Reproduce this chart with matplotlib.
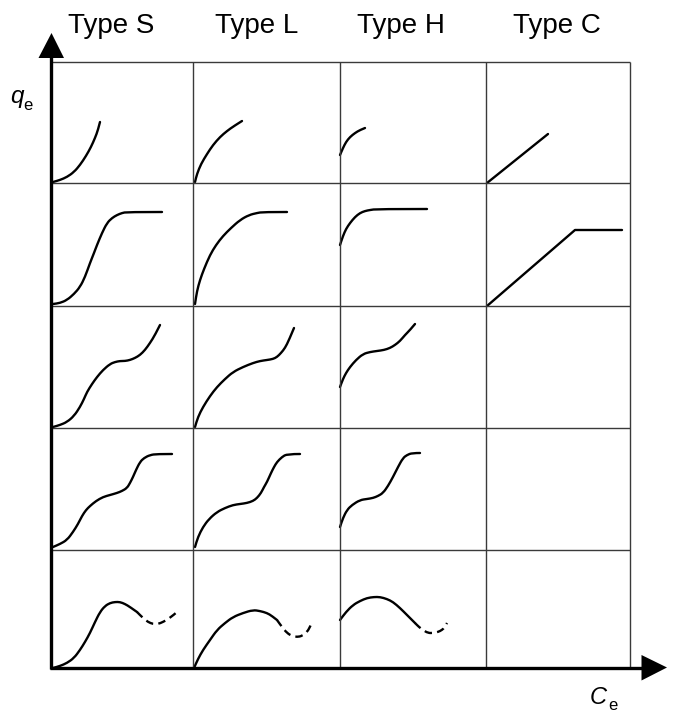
import matplotlib
matplotlib.use("Agg")
import matplotlib.pyplot as plt
from matplotlib.patches import Polygon, PathPatch
from matplotlib.path import Path

# ---- data: column / row labels and isotherm shapes (Ce offset, qe offset per cell) ----
col_labels = ["Type S", "Type L", "Type H", "Type C"]
x_label_main, x_label_sub = "C", "e"
y_label_main, y_label_sub = "q", "e"

# row 1
s1 = [(3,1),(10,3),(17,6),(24,11),(30,18),(36,27),(41,36),(45,45),(48,53),(50,61)]
l1 = [(2,1),(4,9),(8,19),(14,29),(20,38),(27,46),(34,52),(41,57),(49,62)]
h1 = [(0,28),(3,35),(6,41),(10,46),(15,50),(20,53),(25,55)]
c1 = [(1,0),(62,49)]
# row 2
s2 = [(3,2),(10,3),(17,6),(24,12),(30,19),(35,29),(40,43),(44,53),(47,61),(52,73),
      (57,83),(62,88),(67,91),(72,93),(77,94),(112,94)]
l2 = [(2,2),(4,15),(7,26),(11,37),(17,51),(23,61),(30,70),(38,78),(47,86),(56,91),
      (64,93),(70,94),(94,94)]
h2 = [(0,61),(3,70),(6,77),(10,83),(15,89),(20,93),(25,95),(30,96),(37,97),(87,97)]
c2 = [(1,0),(89,76),(136,76)]
# row 3
s3 = [(3,1),(10,3),(17,6),(24,12),(30,21),(34,29),(37,36),(42,44),(47,51),(53,58),
      (60,64),(65,66),(70,67),(75,67),(80,68),(85,70),(90,73),(95,78),(100,85),(105,93),(110,103)]
l3 = [(2,1),(5,11),(10,21),(17,32),(24,41),(32,49),(40,56),(50,61),(60,65),(67,67),
      (74,68),(80,69),(84,71),(88,75),(92,80),(96,88),(101,100)]
h3 = [(0,41),(3,49),(6,55),(10,61),(16,68),(23,74),(30,76),(37,77),(44,78),(50,80),
      (55,83),(60,87),(65,93),(70,98),(75,104)]
# row 4
s4 = [(3,3),(10,6),(17,10),(23,18),(28,26),(32,34),(36,40),(40,44),(46,49),(53,53),
      (60,55),(67,57),(72,59),(77,62),(80,67),(83,73),(86,80),(90,88),(94,92),(100,95),
      (107,96),(122,96)]
l4 = [(2,3),(5,13),(10,23),(16,31),(24,38),(32,42),(40,45),(47,46),(54,47),(60,49),
      (64,52),(68,57),(71,63),(74,68),(78,77),(81,83),(84,88),(89,93),(94,96),(107,96)]
h4 = [(0,23),(3,32),(7,40),(12,45),(20,50),(27,51),(33,52),(38,54),(43,57),(48,64),
      (53,73),(58,83),(63,92),(67,95),(72,97),(80,97)]
# row 5 (solid part + dashed continuation)
s5 = [(3,0),(10,2),(17,5),(24,10),(30,18),(35,26),(40,35),(45,46),(50,56),(55,62),
      (60,65),(65,66),(70,66),(75,64),(80,61),(87,56)]
s5d = [(87,56),(93,50),(98,46),(103,44),(108,44),(113,46),(120,50),(127,56)]
l5 = [(1,0),(5,9),(10,18),(17,28),(24,38),(32,45),(40,51),(50,55),(60,58),(67,57),
      (74,55),(79,52),(84,48)]
l5d = [(84,48),(89,41),(94,35),(99,32),(104,31),(109,32),(114,36),(117,41),(119,46)]
h5 = [(0,48),(6,56),(13,63),(20,67),(27,70),(34,71),(40,71),(47,69),(53,66),(60,60),
      (67,53),(71,49),(75,45)]
h5d = [(75,45),(79,41),(83,38),(88,35),(93,35),(98,36),(102,38),(105,41),(107,45)]

# (row, col, solid points, dashed points)
cells = [
    (0, 0, s1, None), (0, 1, l1, None), (0, 2, h1, None), (0, 3, c1, None),
    (1, 0, s2, None), (1, 1, l2, None), (1, 2, h2, None), (1, 3, c2, None),
    (2, 0, s3, None), (2, 1, l3, None), (2, 2, h3, None),
    (3, 0, s4, None), (3, 1, l4, None), (3, 2, h4, None),
    (4, 0, s5, s5d), (4, 1, l5, l5d), (4, 2, h5, h5d),
]
straight = {(0, 3), (1, 3)}

# ---- layout (figure pixel coordinates) ----
col_edges = [50, 193, 340, 486, 630]
row_edges = [62, 183, 306, 428, 550, 668]
col_centers = [111, 257, 401, 557]

fig = plt.figure(figsize=(6.78, 7.2), dpi=100)
ax = fig.add_axes([0, 0, 1, 1])
ax.set_xlim(0, 678)
ax.set_ylim(720, 0)
ax.axis("off")

grid_kw = dict(color="#3a3a3a", lw=1.0, solid_capstyle="butt")
for y in row_edges[:-1]:
    ax.plot([col_edges[0], col_edges[-1]], [y, y], **grid_kw)
for x in col_edges[1:]:
    ax.plot([x, x], [row_edges[0], row_edges[-1]], **grid_kw)

# axes (thick) with arrow heads
ax.plot([51, 51], [669, 56], color="black", lw=2.4, solid_capstyle="butt")
ax.plot([49.5, 644], [668, 668], color="black", lw=2.4, solid_capstyle="butt")
ax.add_patch(Polygon([(38.5, 58), (64, 58), (51.5, 33)], closed=True, color="black", lw=0))
ax.add_patch(Polygon([(641.5, 655), (641.5, 680.5), (667, 667.5)], closed=True, color="black", lw=0))


def smooth_path(xs, ys, smooth=True):
    """Quadratic-Bezier path (matplotlib CURVE3) through the read points."""
    pts = list(zip(xs, ys))
    if not smooth or len(pts) < 3:
        return Path(pts, [Path.MOVETO] + [Path.LINETO] * (len(pts) - 1))
    verts = [pts[0]]
    codes = [Path.MOVETO]
    mids = [((pts[i][0] + pts[i + 1][0]) / 2, (pts[i][1] + pts[i + 1][1]) / 2)
            for i in range(len(pts) - 1)]
    verts.append(mids[0]); codes.append(Path.LINETO)
    for i in range(1, len(pts) - 1):
        end = mids[i] if i < len(pts) - 2 else pts[-1]
        verts += [pts[i], end]
        codes += [Path.CURVE3, Path.CURVE3]
    return Path(verts, codes)


for r, c, pts, dpts in cells:
    x0 = col_edges[c]
    y0 = row_edges[r + 1]
    xs = [x0 + p[0] for p in pts]
    ys = [y0 - p[1] for p in pts]
    ax.add_patch(PathPatch(smooth_path(xs, ys, (r, c) not in straight),
                           facecolor="none", edgecolor="black", lw=1.7,
                           joinstyle="round", capstyle="round"))
    if dpts is not None:
        xs = [x0 + p[0] for p in dpts]
        ys = [y0 - p[1] for p in dpts]
        ax.add_patch(PathPatch(smooth_path(xs, ys), facecolor="none",
                               edgecolor="black", lw=1.7, linestyle=(0, (3.2, 2.2)),
                               capstyle="butt"))

# column titles
for cx, lab in zip(col_centers, col_labels):
    ax.text(cx, 33, lab, ha="center", va="baseline", fontsize=20,
            family="Liberation Sans", color="black")

# axis labels
ax.text(10, 103.5, y_label_main, ha="left", va="baseline", fontsize=17.5,
        family="Liberation Sans", style="italic")
ax.text(23, 110, y_label_sub, ha="left", va="baseline", fontsize=12,
        family="Liberation Sans")
ax.text(590, 703.5, x_label_main, ha="left", va="baseline", fontsize=17,
        family="Liberation Sans", style="italic")
ax.text(608, 710, x_label_sub, ha="left", va="baseline", fontsize=12,
        family="Liberation Sans")

fig.savefig("out.png", dpi=100, facecolor="white")
